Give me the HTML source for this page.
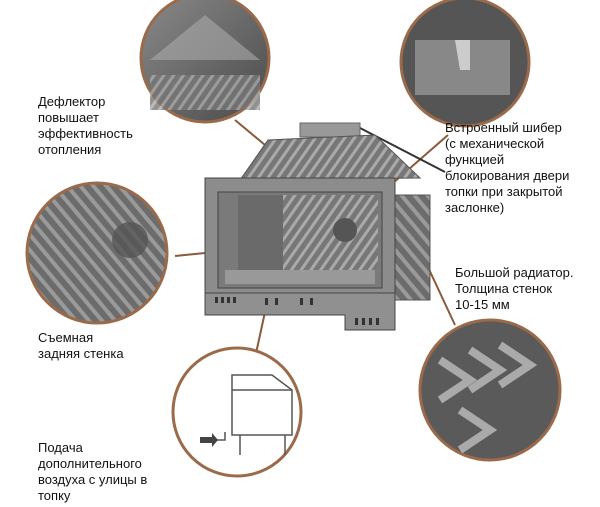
<!DOCTYPE html>
<html><head><meta charset="utf-8"><style>
body{margin:0;background:#fff;width:600px;height:507px;overflow:hidden;position:relative;font-family:"Liberation Sans",sans-serif}
.t{position:absolute;font-size:13px;line-height:16px;color:#111}
svg{position:absolute;left:0;top:0}
</style></head><body>
<svg width="600" height="507" viewBox="0 0 600 507">
<defs>
<linearGradient id="g1" x1="0" y1="0" x2="1" y2="1"><stop offset="0" stop-color="#8a8a8a"/><stop offset="1" stop-color="#4a4a4a"/></linearGradient>
<pattern id="st" width="8" height="8" patternUnits="userSpaceOnUse" patternTransform="rotate(35)"><rect width="8" height="8" fill="#777"/><rect width="3" height="8" fill="#aaa"/></pattern>
<pattern id="st2" width="10" height="10" patternUnits="userSpaceOnUse" patternTransform="rotate(-40)"><rect width="10" height="10" fill="#6c6c6c"/><rect width="4" height="10" fill="#9a9a9a"/></pattern>
</defs>
<!-- connectors -->
<g stroke="#8a5a3a" stroke-width="2" fill="none">
<line x1="235" y1="120" x2="295" y2="170"/>
<line x1="175" y1="256" x2="285" y2="245"/>
<line x1="448" y1="135" x2="385" y2="190"/>
<line x1="420" y1="250" x2="455" y2="325"/>
<line x1="265" y1="312" x2="255" y2="358"/>
</g>
<line x1="360" y1="128" x2="445" y2="172" stroke="#333" stroke-width="2"/>
<!-- circles -->
<circle cx="205" cy="58" r="64" fill="url(#g1)" stroke="#9a6a4a" stroke-width="3"/>
<path d="M150 60 L205 15 L260 60 Z" fill="#aaa" opacity=".6"/>
<rect x="150" y="75" width="110" height="35" fill="url(#st)" opacity=".8"/>
<circle cx="465" cy="62" r="64" fill="#555" stroke="#9a6a4a" stroke-width="3"/>
<rect x="415" y="40" width="95" height="55" fill="#888"/>
<path d="M455 40 h15 v30 h-10 z" fill="#ccc"/>
<circle cx="97" cy="253" r="70" fill="url(#st2)" stroke="#9a6a4a" stroke-width="3"/>
<circle cx="130" cy="240" r="18" fill="#555" opacity=".8"/>
<circle cx="490" cy="390" r="70" fill="#5a5a5a" stroke="#9a6a4a" stroke-width="3"/>
<path d="M440 360 l30 20 l-30 20 M470 350 l30 20 l-30 20 M500 345 l30 20 l-30 20 M460 410 l30 20 l-30 20" stroke="#aaa" stroke-width="8" fill="none"/>
<circle cx="237" cy="412" r="64" fill="#fff" stroke="#9a6a4a" stroke-width="3"/>
<g stroke="#555" stroke-width="1.5" fill="none">
<path d="M232 375 h40 l20 15 v45 h-60 z"/><line x1="232" y1="390" x2="292" y2="390"/>
<line x1="240" y1="435" x2="240" y2="455"/><line x1="285" y1="435" x2="285" y2="455"/>
<path d="M205 440 h20 v-8"/>
</g>
<path d="M200 437 h12 v-4 l6 7 l-6 7 v-4 h-12z" fill="#444"/>
<!-- fireplace -->
<rect x="300" y="123" width="60" height="14" fill="#999" stroke="#666"/>
<path d="M240 180 L268 140 L375 135 L420 178 Z" fill="url(#st)" stroke="#555"/>
<rect x="385" y="195" width="45" height="105" fill="url(#st2)" stroke="#555"/>
<rect x="205" y="178" width="190" height="115" fill="#8c8c8c" stroke="#444"/>
<rect x="218" y="192" width="164" height="96" fill="#7a7a7a" stroke="#444"/>
<rect x="238" y="195" width="45" height="80" fill="#6a6a6a"/>
<rect x="283" y="195" width="95" height="75" fill="url(#st)"/>
<circle cx="345" cy="230" r="12" fill="#555"/>
<rect x="225" y="270" width="150" height="14" fill="#999"/>
<path d="M205 293 H395 V330 H345 V315 H205 Z" fill="#909090" stroke="#444"/>
<g fill="#333"><rect x="215" y="297" width="3" height="6"/><rect x="221" y="297" width="3" height="6"/><rect x="227" y="297" width="3" height="6"/><rect x="233" y="297" width="3" height="6"/><rect x="265" y="298" width="3" height="7"/><rect x="275" y="298" width="3" height="7"/><rect x="300" y="298" width="3" height="7"/><rect x="310" y="298" width="3" height="7"/><rect x="355" y="318" width="3" height="7"/><rect x="362" y="318" width="3" height="7"/><rect x="369" y="318" width="3" height="7"/><rect x="376" y="318" width="3" height="7"/></g>
</svg>
<div class="t" style="left:38px;top:94px">Дефлектор<br>повышает<br>эффективность<br>отопления</div>
<div class="t" style="left:445px;top:120px">Встроенный шибер<br>(с механической<br>функцией<br>блокирования двери<br>топки при закрытой<br>заслонке)</div>
<div class="t" style="left:455px;top:265px">Большой радиатор.<br>Толщина стенок<br>10-15 мм</div>
<div class="t" style="left:38px;top:330px">Съемная<br>задняя стенка</div>
<div class="t" style="left:38px;top:440px">Подача<br>дополнительного<br>воздуха с улицы в<br>топку</div>
</body></html>
